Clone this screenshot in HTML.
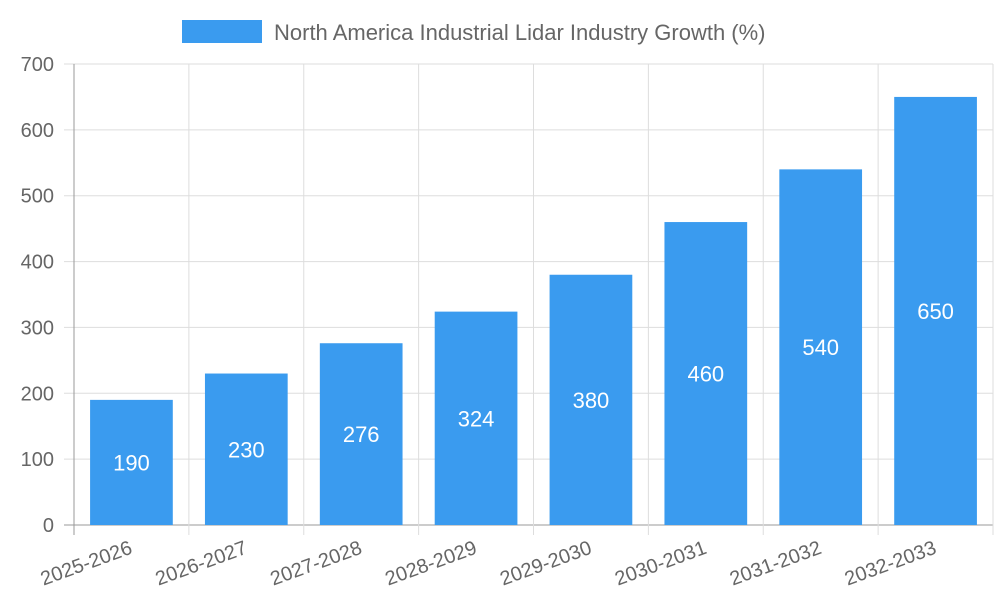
<!DOCTYPE html>
<html><head><meta charset="utf-8"><style>
body{margin:0;background:#fff;}
svg text{font-family:"Liberation Sans",sans-serif;}
</style></head><body>
<svg width="1000" height="600" xmlns="http://www.w3.org/2000/svg">
<g>
<rect x="182" y="20" width="80" height="23" fill="#3a9bef"/>
<text x="274" y="40" font-size="22" fill="#666">North America Industrial Lidar Industry Growth (%)</text>
</g>
<g id="grid"></g>
<g id="bars"></g>
<g id="axes"></g>
</svg>
<script>
const categories=["2025-2026","2026-2027","2027-2028","2028-2029","2029-2030","2030-2031","2031-2032","2032-2033"];
const values=[190,230,276,324,380,460,540,650];
const yTicks=[0,100,200,300,400,500,600,700];
const NS="http://www.w3.org/2000/svg";
const L=74,R=993,T=64,B=525,YMAX=700;
const bw=(R-L)/categories.length;
const y=v=>B-(v/YMAX)*(B-T);
const x=i=>L+i*bw;
function mk(tag,attrs,parent,txt){const e=document.createElementNS(NS,tag);for(const k in attrs)e.setAttribute(k,attrs[k]);if(txt!==undefined)e.textContent=txt;parent.appendChild(e);return e;}
const grid=document.getElementById('grid'),bars=document.getElementById('bars'),axes=document.getElementById('axes');
yTicks.forEach(t=>{
 const l=mk('line',{x1:L-10,x2:R,y1:y(t),y2:y(t),stroke:t===0?'#999':'#ddd','stroke-width':1},grid);
 
 
 const tx=mk('text',{x:L-20,y:y(t)+7,'text-anchor':'end','font-size':20,fill:'#666'},axes,t);
 
 
});
for(let i=0;i<=categories.length;i++){
 const l=mk('line',{x1:x(i),x2:x(i),y1:T,y2:B+10,stroke:i===0?'#999':'#ddd','stroke-width':1},grid);
 
 
}
categories.forEach((c,i)=>{
 const cx=x(i)+bw/2, w=bw*0.72;
 const r=mk('rect',{x:cx-w/2,y:y(values[i]),width:w,height:B-y(values[i]),fill:'#3a9bef'},bars);
 
 
 const v=mk('text',{x:cx,y:(y(values[i])+B)/2+8,'text-anchor':'middle','font-size':22,fill:'#fff'},bars,values[i]);
 
 
 const lb=mk('text',{x:cx+2,y:B+28,'text-anchor':'end','font-size':20,fill:'#666',transform:`rotate(-20 ${cx+2} ${B+28})`},axes,c);
 
 
});
</script>
</body></html>
